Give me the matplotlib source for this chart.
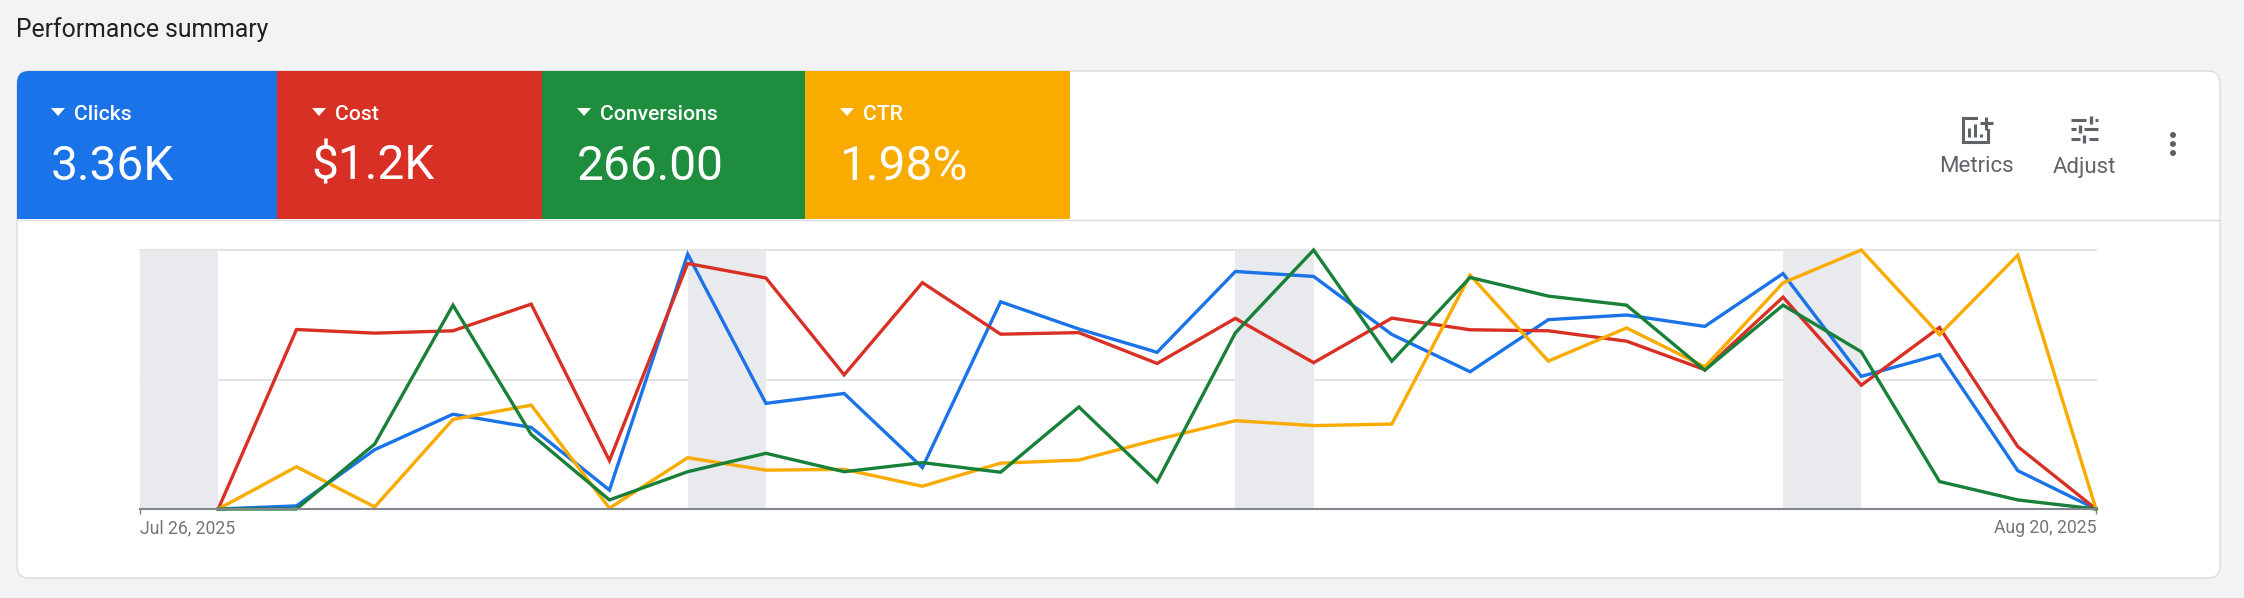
import matplotlib
matplotlib.use('Agg')
import matplotlib.pyplot as plt
from matplotlib.patches import FancyBboxPatch, Rectangle, Polygon, Circle

plt.rcParams['font.family'] = ['Roboto', 'DejaVu Sans']

# values, in percent of each metric's own maximum
clicks = [0, 1.2, 22.9, 36.6, 31.5, 7.3, 98.4, 40.8, 44.6, 16.0, 80.0, 69.5, 60.5, 91.7, 89.8, 67.4, 53.0, 73.1, 74.9, 70.5, 90.9, 51.2, 59.6, 14.8, 0]
cost = [0, 69.3, 67.9, 68.8, 79.1, 18.7, 94.8, 89.2, 51.8, 87.4, 67.5, 68.1, 56.2, 73.6, 56.5, 73.7, 69.2, 68.8, 64.8, 53.8, 81.8, 47.8, 70.1, 24.1, 0]
conversions = [0, 0, 25.1, 78.7, 28.8, 3.5, 14.4, 21.5, 14.4, 17.9, 14.2, 39.4, 10.5, 68.0, 100, 57.1, 89.4, 82.2, 78.7, 53.6, 78.7, 60.7, 10.6, 3.5, 0]
ctr = [0, 16.3, 0.8, 34.6, 40.1, 0.3, 19.8, 15.0, 15.3, 8.8, 17.7, 18.9, 26.8, 34.1, 32.2, 32.8, 90.3, 57.1, 69.9, 54.9, 87.3, 100, 67.3, 98.0, 0]
days = list(range(1, 26))  # day index, Jul 26 = 0
weekends = [0, 7, 14, 21]
date_labels = ['Jul 26, 2025', 'Aug 20, 2025']

metric_names = ['Clicks', 'Cost', 'Conversions', 'CTR']
metric_values = ['3.36K', '$1.2K', '266.00', '1.98%']
tile_colors = ['#1a73e8', '#d93025', '#1e8e3e', '#f9ab00']
line_colors = ['#1a73e8', '#d93025', '#188038', '#f9ab00']

W, H = 2244, 598
fig = plt.figure(figsize=(W / 100, H / 100), dpi=100, facecolor='#f1f3f4')

# page furniture, in pixel coordinates
bg = fig.add_axes([0, 0, 1, 1])
bg.set_xlim(0, W)
bg.set_ylim(H, 0)
bg.axis('off')

bg.text(16, 30, 'Performance summary', fontsize=17.8, color='#202124', va='center', ha='left')

card = FancyBboxPatch((17, 71), 2203, 507, boxstyle='round,pad=0,rounding_size=12',
                      facecolor='white', edgecolor='#dadce0', linewidth=1)
bg.add_patch(card)
bg.plot([17, 2220], [220, 220], color='#dadce0', lw=1)

edges = [17, 277, 542, 805, 1070]
for i in range(4):
    x0, x1 = edges[i], edges[i + 1]
    if i == 0:
        tile = FancyBboxPatch((x0, 71), x1 - x0 + 20, 148, boxstyle='round,pad=0,rounding_size=12',
                              facecolor=tile_colors[i], edgecolor='none')
        bg.add_patch(tile)
        bg.add_patch(Rectangle((x0, 120), 40, 99, facecolor=tile_colors[i], edgecolor='none'))
        tx = x0 - 1
    else:
        bg.add_patch(Rectangle((x0, 71), x1 - x0, 148, facecolor=tile_colors[i], edgecolor='none', zorder=2))
        tx = x0
    bg.add_patch(Polygon([(tx + 35, 108), (tx + 49, 108), (tx + 42, 116)], facecolor='white', edgecolor='none', zorder=3))
    bg.text(tx + 58, 114, metric_names[i], color='white', fontsize=15.2, fontweight='medium', va='center', ha='left', zorder=3)
    bg.text(tx + 34.5, 167, metric_values[i], color='white', fontsize=34.5, va='center', ha='left', zorder=3)

# Metrics icon
grey = '#5f6368'
bg.plot([1976, 1963, 1963, 1988, 1988], [118, 118, 142, 142, 130], color=grey, lw=2.2, solid_joinstyle='miter')
for x, top in zip([1969, 1975.5, 1981], [128, 124, 134]):
    bg.plot([x, x], [top, 137], color=grey, lw=2.2, solid_capstyle='butt')
bg.plot([1980, 1993], [123, 123], color=grey, lw=2.2, solid_capstyle='butt')
bg.plot([1986.5, 1986.5], [116.5, 129.5], color=grey, lw=2.2, solid_capstyle='butt')
bg.text(1976.5, 167, 'Metrics', color=grey, fontsize=16, ha='center', va='center')

# Adjust icon
for y, xs, knob in [(120, [(2071, 2086), (2095, 2098)], 2091), (129, [(2071, 2076), (2084, 2098)], 2080), (139, [(2071, 2080), (2089, 2098)], 2084)]:
    for a, b in xs:
        bg.plot([a, b], [y, y], color=grey, lw=2.2, solid_capstyle='butt')
    bg.plot([knob, knob], [y - 4, y + 4], color=grey, lw=2.4, solid_capstyle='butt')
bg.text(2084, 167, 'Adjust', color=grey, fontsize=16, ha='center', va='center')

for y in [135, 144, 153]:
    bg.add_patch(Circle((2173, y), 3, facecolor=grey, edgecolor='none'))

# the chart itself
ax = fig.add_axes([140 / W, 1 - 509 / H, (2096 - 140) / W, (509 - 250) / H])
ax.patch.set_alpha(0)
ax.set_xlim(0, 25)
ax.set_ylim(0, 100)
for s in ['top', 'right', 'left']:
    ax.spines[s].set_visible(False)
ax.spines['bottom'].set_color('#80868b')
ax.spines['bottom'].set_linewidth(1.5)
ax.spines['bottom'].set_zorder(6)

for d in weekends:
    ax.axvspan(d, d + 1, color='#e8eaed', lw=0, zorder=1)
ax.set_yticks([50, 100])
ax.set_yticklabels([])
ax.grid(axis='y', color='#e0e0e0', lw=1.3, zorder=2, clip_on=False)
ax.tick_params(axis='y', length=0)
ax.set_axisbelow(True)

ax.set_xticks([0, 25])
ax.set_xticklabels(date_labels, fontsize=12.7, color='#757575')
ax.get_xticklabels()[0].set_ha('left')
ax.get_xticklabels()[1].set_ha('right')
ax.tick_params(axis='x', length=3.5, width=1, color='#80868b', pad=4)

for series, c in zip([clicks, cost, ctr, conversions], [line_colors[0], line_colors[1], line_colors[3], line_colors[2]]):
    ax.plot(days, series, color=c, lw=2.4, solid_joinstyle='miter', clip_on=False, zorder=5)

fig.savefig('out.png', dpi=100, facecolor=fig.get_facecolor())
